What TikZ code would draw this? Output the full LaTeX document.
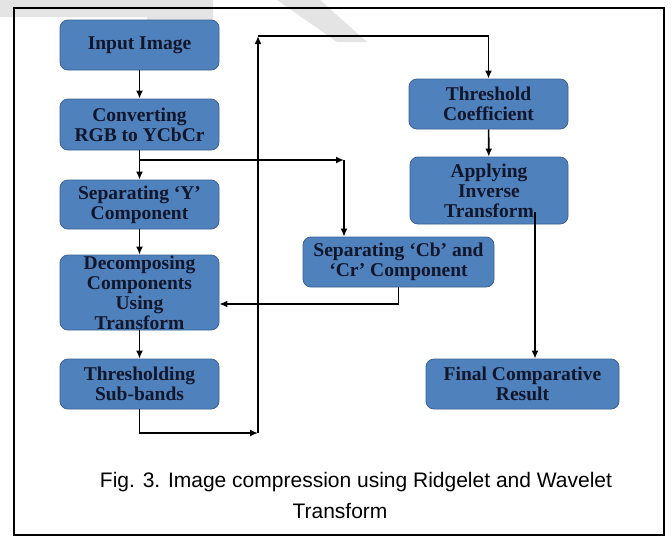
\documentclass[tikz,border=0pt]{standalone}
\usepackage{fontspec}
\setmainfont{Liberation Serif}
\newfontfamily\capfont{Liberation Sans}
\usetikzlibrary{arrows.meta,calc}
\definecolor{boxblue}{RGB}{79,129,189}
\definecolor{boxedge}{RGB}{58,98,148}
\definecolor{boxtext}{RGB}{18,22,42}
\definecolor{wmgray}{RGB}{228,228,228}
\begin{document}
\begin{tikzpicture}[x=1pt,y=-1pt,
  stepbox/.style={rounded corners=8pt, fill=boxblue, draw=boxedge, line width=0.8pt,
    inner sep=0pt, align=center, text=boxtext,
    font=\bfseries\fontsize{19.5}{20}\selectfont},
  conn/.style={line width=1.6pt, -{Latex[length=8pt,width=7pt]}},
  frame/.style={line width=2pt},
  captext/.style={font=\capfont\fontsize{21}{25}\selectfont, anchor=base},
  wmark/.style={fill=wmgray}]
\useasboundingbox (0,0) rectangle (672,536);
\fill[white] (0,0) rectangle (672,536);
% faint watermark
\fill[wmark] (0,0) -- (213,0) -- (213,42) -- (147,42) -- (147,17) -- (0,17) -- cycle;
\fill[wmark] (277,0) -- (320,0) -- (367,42) -- (337,42) -- cycle;
% frame
\draw[frame] (14,8) rectangle (664,535);
% boxes
\node[stepbox, minimum width=159pt, minimum height=50pt] (in) at (139.5,45) {Input Image};
\node[stepbox, minimum width=159pt, minimum height=51pt] (conv) at (139.5,124.5) {Converting\\RGB to YCbCr};
\node[stepbox, minimum width=159pt, minimum height=49pt] (sepy) at (139.5,204.5) {Separating ‘Y’\\Component};
\node[stepbox, minimum width=159pt, minimum height=75pt] (dec) at (139.5,292.5) {Decomposing\\Components\\Using\\Transform};
\node[stepbox, minimum width=159pt, minimum height=50pt] (thr) at (139.5,384) {Thresholding\\Sub-bands};
\node[stepbox, minimum width=159pt, minimum height=50pt] (tc) at (488.5,104) {Threshold\\Coefficient};
\node[stepbox, minimum width=158pt, minimum height=67pt] (app) at (489,190.5) {Applying\\Inverse\\Transform};
\node[stepbox, minimum width=191pt, minimum height=50pt] (cb) at (398.5,262) {Separating ‘Cb’ and\\‘Cr’ Component};
\node[stepbox, minimum width=193pt, minimum height=50pt] (fin) at (522.5,384) {Final Comparative\\Result};
% helper coordinates
\coordinate (br) at (139.5,160);
\coordinate (bc) at (344,160);
\coordinate (ta) at (258,433);
\coordinate (tb) at (258,36);
\coordinate (ap) at (535,212);
% connectors
\draw[conn] (in) -- (conv);
\draw[conn] (conv) -- (sepy);
\draw[conn] (br) -- (bc);
\draw[conn] (bc) -- (bc |- cb.north);
\draw[conn] (sepy) -- (dec);
\draw[conn] (cb.south) |- ($(dec.east)+(0,11.5)$);
\draw[conn] (dec) -- (thr);
\draw[conn] (thr.south) |- (ta);
\draw[conn] (ta) -- (tb);
\draw[conn] (tb) -| (tc.north);
\draw[conn] (tc) -- (app);
\draw[conn] (ap) -- (ap |- fin.north);
% caption
\node[captext] (cap1) at (356,487) {Fig. 3. Image compression using Ridgelet and Wavelet};
\node[captext] (cap2) at (340,518) {Transform};
\end{tikzpicture}
\end{document}
